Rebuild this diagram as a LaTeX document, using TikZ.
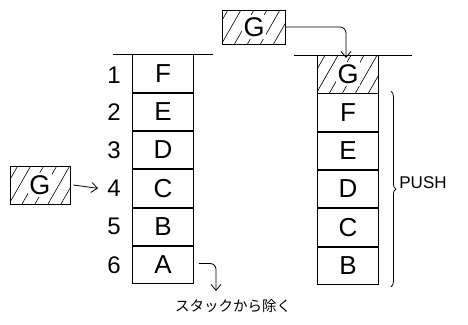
\documentclass[tikz,border=0pt]{standalone}
\usepackage{fontspec}
\setmainfont{Liberation Sans}
\newfontfamily\jpfont{Noto Sans CJK JP}
\usetikzlibrary{arrows.meta,decorations.pathreplacing}
\begin{document}
\begin{tikzpicture}[x=1pt,y=-1pt,line width=0.8pt,
  cell/.style={draw,minimum width=61pt,minimum height=37.5pt,inner sep=0pt,anchor=north,font=\fontsize{26}{26}\selectfont},
  num/.style={inner sep=0pt,font=\fontsize{24}{24}\selectfont},
  hatch/.style={path picture={
     \foreach \i in {-40,-27,...,70}{\draw[line width=0.6pt] ([xshift=\i pt]path picture bounding box.south west) -- ++(24pt,42pt);}
     \fill[white] ([xshift=-12pt,yshift=-12pt]path picture bounding box.center) rectangle ([xshift=12pt,yshift=12pt]path picture bounding box.center);
  }},
  gbox/.style={draw,hatch,inner sep=0pt,font=\fontsize{27}{27}\selectfont},
  arr/.style={-{Straight Barb[length=6pt,width=10pt]},line width=0.8pt},
]
\useasboundingbox (0,0) rectangle (468,324);
% left stack
\draw (113,54.3) -- (213,54.3);
\node[cell] (L1) at (163,54.3) {F};
\node[cell] (L2) at (L1.south) {E};
\node[cell] (L3) at (L2.south) {D};
\node[cell] (L4) at (L3.south) {C};
\node[cell] (L5) at (L4.south) {B};
\node[cell] (L6) at (L5.south) {A};
\node[num] (n1) at ([xshift=-18pt,yshift=-2pt]L1.west) {1};
\node[num] (n2) at ([xshift=-18pt]L2.west) {2};
\node[num] (n3) at ([xshift=-18pt]L3.west) {3};
\node[num] (n4) at ([xshift=-18pt]L4.west) {4};
\node[num] (n5) at ([xshift=-18pt]L5.west) {5};
\node[num] (n6) at ([xshift=-18pt]L6.west) {6};
\node[gbox,font=\fontsize{27}{27}\selectfont,minimum width=60pt,minimum height=38pt] (GL) at (40,185) {G};
\draw[arr] ([xshift=3pt]GL.east) -- ([xshift=-9pt]n4.west);
\coordinate (exit) at (216,291);
\draw[arr,rounded corners=6pt] ([xshift=5pt,yshift=1.5pt]L6.east) -| (exit);
\node[font=\jpfont\fontsize{14.5}{14.5}\selectfont] (lbl) at (233,306) {スタックから除く};
% right stack
\draw (294,55) -- (412,55);
\node[cell,hatch,font=\fontsize{27}{27}\selectfont] (R1) at (348,55) {G};
\node[cell] (R2) at (R1.south) {F};
\node[cell] (R3) at (R2.south) {E};
\node[cell] (R4) at (R3.south) {D};
\node[cell] (R5) at (R4.south) {C};
\node[cell] (R6) at (R5.south) {B};
\node[gbox,minimum width=63pt,minimum height=34pt] (GT) at (254,27) {G};
\draw[arr,rounded corners=6pt] (GT.east) -| ([xshift=-2pt,yshift=-3pt]R1.north);
\draw[decorate,decoration={brace,amplitude=5pt}] ([xshift=12pt,yshift=2pt]R2.north east) -- ([xshift=12pt,yshift=-2pt]R6.south east);
\node[inner sep=0pt,anchor=west,font=\fontsize{17}{17}\selectfont] (push) at (399,183) {PUSH};
\end{tikzpicture}
\end{document}
